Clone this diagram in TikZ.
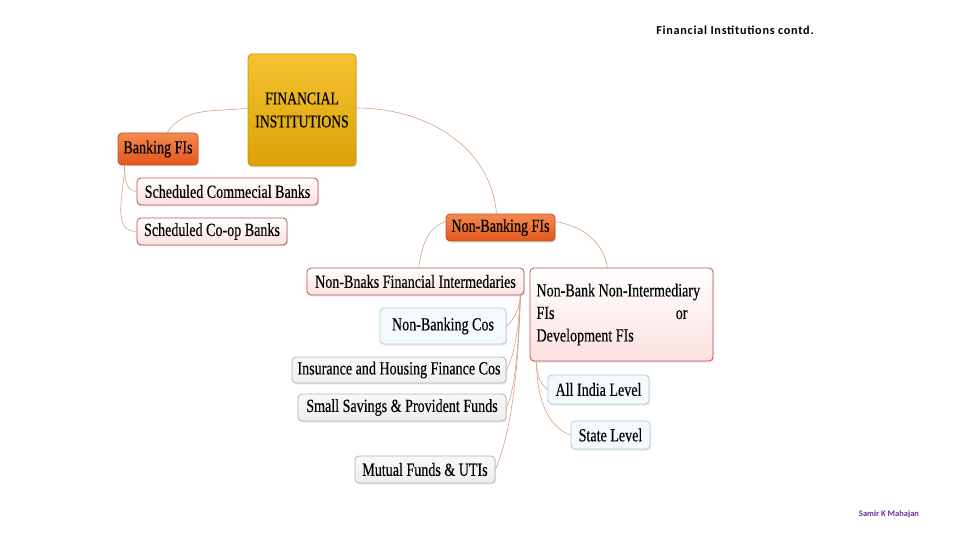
\documentclass[tikz,border=0pt]{standalone}
\usepackage{fontspec}
\setmainfont{Liberation Serif}
\newfontfamily\nodefont{Liberation Serif}[FakeStretch=0.76, FakeBold=0.3]
\newfontfamily\calfont{Carlito}[LetterSpace=6]
\newfontfamily\authfont{Carlito}
\usetikzlibrary{shadows}
\definecolor{goldtop}{HTML}{F5C230}
\definecolor{goldbot}{HTML}{DCA206}
\definecolor{goldline}{HTML}{C89410}
\definecolor{orgtop}{HTML}{F48A50}
\definecolor{orgbot}{HTML}{E2561C}
\definecolor{orgline}{HTML}{C8501E}
\definecolor{pinkfill}{HTML}{FCE0E0}
\definecolor{pinkline}{HTML}{C0504D}
\definecolor{bluefill}{HTML}{F4FAFC}
\definecolor{blueline}{HTML}{A8D0DE}
\definecolor{greyfill}{HTML}{EEEEEE}
\definecolor{greyline}{HTML}{B4B4B4}
\definecolor{connc}{HTML}{D8A080}
\definecolor{purp}{HTML}{7030A0}
\tikzset{
  box/.style={rounded corners=4pt, line width=0.8pt, inner sep=0pt,
    font=\nodefont\fontsize{18.5}{22}\selectfont, align=center,
    drop shadow={opacity=0.18, shadow xshift=1.2pt, shadow yshift=-1.5pt}},
  goldbox/.style={box, draw=goldline, top color=goldtop, bottom color=goldbot},
  orgbox/.style={box, draw=orgline, top color=orgtop, bottom color=orgbot},
  pinkbox/.style={box, draw=pinkline, top color=white, bottom color=pinkfill},
  bluebox/.style={box, draw=blueline, fill=bluefill},
  greybox/.style={box, draw=greyline, top color=white!60!greyfill, bottom color=greyfill},
  conn/.style={draw=connc, line width=0.6pt},
}
\begin{document}
\begin{tikzpicture}[x=1pt,y=-1pt]
\useasboundingbox (0,0) rectangle (960,540);
\fill[white] (0,0) rectangle (960,540);

\node[goldbox, minimum width=108pt, minimum height=112pt,
  font=\nodefont\fontsize{18}{23}\selectfont] (fi) at (302,110) {FINANCIAL\\INSTITUTIONS};
\node[orgbox, minimum width=80pt, minimum height=32pt] (bank) at (158,149) {Banking FIs};
\node[pinkbox, minimum width=181pt, minimum height=27pt] (scb) at (227.5,191.5) {Scheduled Commecial Banks};
\node[pinkbox, minimum width=150pt, minimum height=27pt] (sco) at (212,231.5) {Scheduled Co-op Banks};
\node[orgbox, minimum width=109pt, minimum height=27pt] (nbf) at (500.5,227.5) {Non-Banking FIs};
\node[pinkbox, minimum width=217pt, minimum height=27pt] (nbi) at (415.5,281.5) {Non-Bnaks Financial Intermedaries};
\node[pinkbox, minimum width=183pt, minimum height=93pt, align=left,
  font=\nodefont\fontsize{18.5}{22.5}\selectfont] (nbn) at (621.5,314.5)
  {\parbox{170pt}{Non-Bank Non-Intermediary\\\makebox[151pt][l]{FIs\hfill or}\\Development FIs}};
\node[bluebox, minimum width=126pt, minimum height=36pt] (nbc) at (443,326) {Non-Banking Cos};
\node[greybox, minimum width=214pt, minimum height=26pt] (ins) at (399,370) {Insurance and Housing Finance Cos};
\node[greybox, minimum width=208pt, minimum height=27pt] (ssp) at (402,407.5) {Small Savings \& Provident Funds};
\node[greybox, minimum width=140pt, minimum height=27pt] (mf) at (425,469.5) {Mutual Funds \& UTIs};
\node[bluebox, minimum width=101pt, minimum height=29pt] (ail) at (598.5,389.5) {All India Level};
\node[bluebox, minimum width=79pt, minimum height=28pt] (sl) at (610.5,435) {State Level};

\node[font=\calfont\bfseries\fontsize{12.2}{14}\selectfont] (title) at (735,30) {Financial Institutions contd.};
\node[font=\authfont\bfseries\fontsize{8.5}{10}\selectfont, text=purp] (auth) at (889,514) {Samir K Mahajan};

% connectors
\draw[conn] ([yshift=2pt]fi.west) to[out=188,in=55] ([xshift=9pt]bank.north);
\draw[conn] ([yshift=2pt]fi.east) to[out=0,in=95] ([xshift=-4pt]nbf.north);
\draw[conn] ([xshift=7pt]bank.south west) to[out=-90,in=180] (scb.west);
\draw[conn] ([xshift=7pt]bank.south west) to[out=-90,in=180] (sco.west);
\draw[conn] ([yshift=6pt]nbf.west) to[out=200,in=80] ([xshift=3pt]nbi.north);
\draw[conn] ([yshift=6pt]nbf.east) to[out=-10,in=100] ([xshift=-14pt]nbn.north);
\coordinate (nbiout) at ([xshift=-4pt]nbi.south east);
\draw[conn] (nbiout) .. controls +(-1,15) and +(6,-4) .. (nbc.east);
\draw[conn] (nbiout) .. controls +(-2,40) and +(6,-10) .. (ins.east);
\draw[conn] (nbiout) .. controls +(-2,55) and +(8,-15) .. (ssp.east);
\draw[conn] (nbiout) .. controls +(-2,80) and +(15,-35) .. (mf.east);
\coordinate (nbnout) at ([xshift=7pt]nbn.south west);
\draw[conn] (nbnout) .. controls +(0,15) and +(-6,-4) .. (ail.west);
\draw[conn] (nbnout) .. controls +(0,50) and +(-15,-5) .. (sl.west);
\end{tikzpicture}
\end{document}
